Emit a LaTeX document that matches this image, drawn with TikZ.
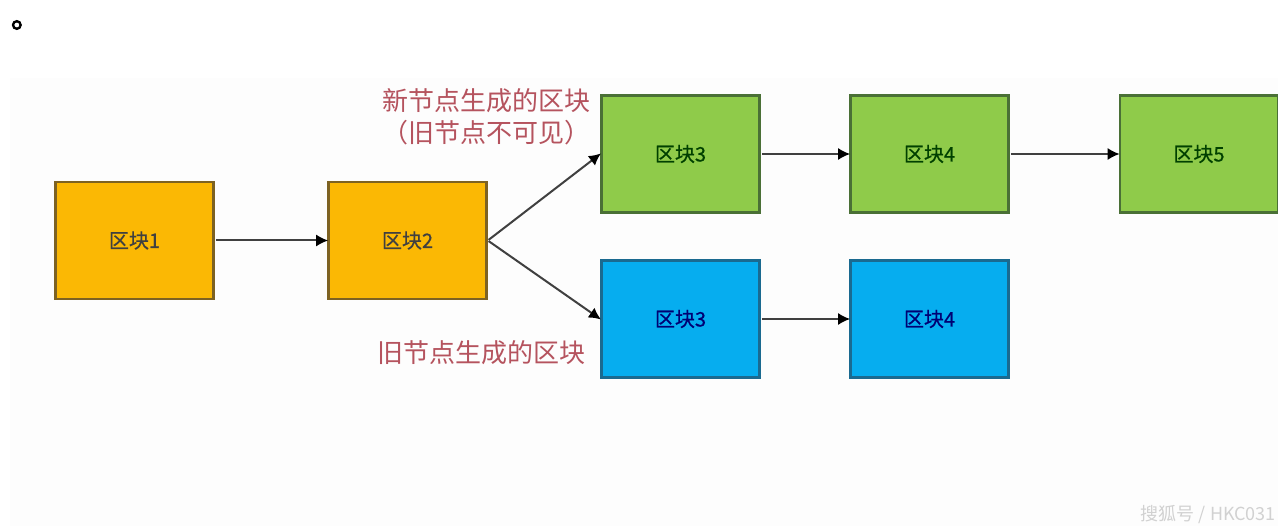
\documentclass[tikz,border=0pt]{standalone}
\usepackage{fontspec}
\setmainfont{Noto Sans CJK SC}
\newfontfamily\cjkbold[FakeBold=3]{Noto Sans CJK SC}
\newfontfamily\cjksemi[FakeBold=0.6]{Noto Sans CJK SC}
\usetikzlibrary{arrows.meta}
\definecolor{orangefill}{HTML}{FBB804}
\definecolor{orangeline}{HTML}{7D6222}
\definecolor{greenfill}{HTML}{8FCB4A}
\definecolor{greenline}{HTML}{4A7036}
\definecolor{bluefill}{HTML}{06ADEF}
\definecolor{blueline}{HTML}{1A6A90}
\definecolor{notecolor}{HTML}{B5535E}
\definecolor{pagetone}{HTML}{FDFDFD}
\tikzset{
  x=1pt,y=-1pt,
  block/.style={draw,line width=2.6pt,minimum width=158pt,minimum height=117pt,inner sep=0pt,
    font=\cjksemi\fontsize{20}{22}\selectfont,text=black!75},
  orangeblock/.style={block,fill=orangefill,draw=orangeline},
  greenblock/.style={block,fill=greenfill,draw=greenline,text=green!25!black},
  blueblock/.style={block,fill=bluefill,draw=blueline,text=blue!45!black},
  note/.style={text=notecolor,font=\fontsize{26}{32}\selectfont,align=center,inner sep=0pt},
  link/.style={draw=black!75,line width=2pt,-{Latex[length=12pt,width=12pt,color=black,fill=black]},shorten >=-1pt,shorten <=1pt}
}
\begin{document}
\begin{tikzpicture}
\useasboundingbox (0,0) rectangle (1278,526);
\fill[white] (0,0) rectangle (1278,526);
\fill[pagetone] (10,78) rectangle (1278,526);
\node[inner sep=0pt,anchor=center,font=\cjkbold\fontsize{30}{30}\selectfont] (dot) at (26,25) {。};
\node[orangeblock] (b1) at (134.5,240.5) {区块1};
\node[orangeblock] (b2) at (407.5,240.5) {区块2};
\node[greenblock] (b3) at (680.5,154) {区块3};
\node[greenblock] (b4) at (929.5,154) {区块4};
\node[greenblock] (b5) at (1199,154) {区块5};
\node[blueblock] (c3) at (680.5,319) {区块3};
\node[blueblock] (c4) at (929.5,319) {区块4};
\draw[link] (b1.east) -- (b2.west);
\draw[link] (b2.east) -- (b3.west);
\draw[link] (b2.east) -- (c3.west);
\draw[link] (b3.east) -- (b4.west);
\draw[link] (b4.east) -- (b5.west);
\draw[link] (c3.east) -- (c4.west);
\node[note] (n1) at (486.5,117) {新节点生成的区块\\（旧节点不可见）};
\node[note] (n2) at (481.5,353) {旧节点生成的区块};
\node[text=black!18,inner sep=0pt,anchor=east,font=\fontsize{18}{20}\selectfont] (wm) at (1276,515) {搜狐号 / HKC031};
\end{tikzpicture}
\end{document}
